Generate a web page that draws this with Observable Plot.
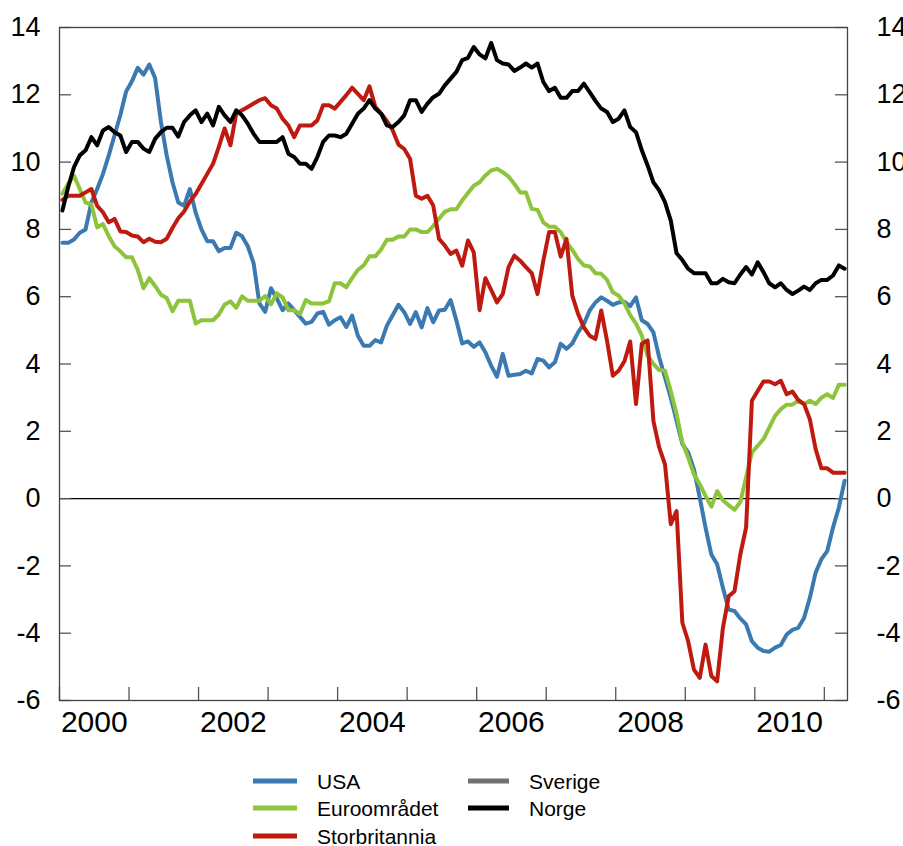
<!DOCTYPE html>
<html><head><meta charset="utf-8">
<script src="https://cdn.jsdelivr.net/npm/d3@7"></script>
<script src="https://cdn.jsdelivr.net/npm/@observablehq/plot@0.6"></script>
<style>
body{margin:0;background:#fff;font-family:"Liberation Sans",Arial,sans-serif;}
#chart{position:relative;width:903px;height:846px;overflow:hidden;}
#chart svg{display:block;}
</style></head><body><div id="chart"></div>
<script>
// Monthly observations, January 2000 to April 2011
const startYear = 2000;
const usa = [7.6,7.6,7.7,7.9,8.0,8.8,9.2,9.65,10.2,10.8,11.4,12.1,
12.4,12.8,12.6,12.9,12.5,11.2,10.2,9.4,8.8,8.7,9.2,8.5,
8.0,7.65,7.65,7.35,7.45,7.45,7.9,7.8,7.5,7.0,5.8,5.55,
6.25,5.95,5.6,5.8,5.6,5.4,5.2,5.25,5.5,5.55,5.17,5.3,
5.39,5.1,5.44,4.84,4.54,4.54,4.71,4.64,5.14,5.45,5.76,5.54,
5.19,5.54,5.09,5.66,5.24,5.59,5.61,5.9,5.29,4.61,4.67,4.51,
4.64,4.35,3.95,3.62,4.3,3.65,3.68,3.7,3.8,3.72,4.15,4.1,
3.9,4.05,4.6,4.45,4.61,4.94,5.19,5.59,5.83,5.98,5.88,5.76,
5.83,5.85,5.72,5.98,5.3,5.19,4.94,4.2,3.6,3.0,2.31,1.62,
1.37,0.87,0.03,-0.86,-1.66,-1.95,-2.65,-3.3,-3.34,-3.56,-3.74,-4.24,
-4.43,-4.53,-4.55,-4.43,-4.35,-4.04,-3.9,-3.84,-3.55,-2.95,-2.2,-1.8,
-1.56,-0.86,-0.27,0.53];
const euro = [9.06,9.36,9.6,9.2,8.8,8.75,8.06,8.16,7.8,7.5,7.35,7.17,
7.17,6.8,6.25,6.55,6.32,6.06,5.96,5.57,5.88,5.88,5.88,5.2,
5.3,5.3,5.3,5.47,5.77,5.86,5.67,6.01,5.88,5.88,5.88,6.02,
5.77,6.1,5.98,5.6,5.6,5.48,5.9,5.8,5.8,5.8,5.86,6.4,
6.4,6.28,6.55,6.8,6.93,7.2,7.2,7.4,7.69,7.69,7.79,7.79,
8.0,8.0,7.92,7.92,8.1,8.32,8.52,8.6,8.6,8.86,9.08,9.3,
9.4,9.6,9.75,9.8,9.7,9.57,9.35,9.1,9.1,8.61,8.58,8.21,
8.08,8.08,7.92,7.62,7.39,7.12,6.93,6.9,6.7,6.68,6.5,6.13,
6.03,5.8,5.45,5.2,4.84,4.25,4.0,3.82,3.8,3.2,2.51,1.67,
1.22,0.72,0.43,0.08,-0.24,0.22,-0.05,-0.2,-0.33,-0.1,0.63,1.37,
1.57,1.77,2.11,2.46,2.66,2.79,2.79,2.91,2.81,2.91,2.81,3.0,
3.1,2.99,3.38,3.38];
const uk = [8.88,9.0,9.0,9.0,9.1,9.2,8.7,8.51,8.21,8.31,7.94,7.92,
7.82,7.79,7.62,7.72,7.63,7.62,7.72,8.04,8.33,8.53,8.83,9.05,
9.35,9.65,9.95,10.45,11.0,10.5,11.44,11.54,11.64,11.74,11.84,11.9,
11.69,11.59,11.29,11.09,10.74,11.09,11.09,11.09,11.24,11.69,11.69,11.59,
11.79,11.99,12.21,12.03,11.84,12.25,11.64,11.45,11.22,10.95,10.52,10.39,
10.1,9.0,8.91,9.0,8.71,7.72,7.52,7.27,7.37,6.92,7.67,7.32,
5.6,6.55,6.2,5.83,6.08,6.88,7.22,7.07,6.88,6.7,6.08,7.07,
7.92,7.92,7.19,7.72,6.03,5.49,5.09,4.84,4.74,5.59,4.69,3.65,
3.8,4.08,4.67,2.81,4.6,4.7,2.31,1.52,1.02,-0.76,-0.37,-3.69,
-4.24,-5.08,-5.33,-4.34,-5.27,-5.43,-3.84,-2.9,-2.75,-1.66,-0.86,2.91,
3.2,3.48,3.48,3.4,3.5,3.1,3.18,2.93,2.81,2.36,1.47,0.9,
0.9,0.77,0.77,0.77];
const sverige = [];
const norge = [8.56,9.26,9.85,10.2,10.35,10.74,10.5,10.94,11.04,10.89,10.79,10.3,
10.6,10.6,10.4,10.3,10.69,10.89,11.02,11.02,10.76,11.19,11.39,11.54,
11.19,11.44,11.09,11.64,11.39,11.19,11.54,11.39,11.14,10.84,10.6,10.6,
10.6,10.6,10.74,10.25,10.15,9.95,9.95,9.8,10.15,10.6,10.79,10.79,
10.74,10.84,11.14,11.44,11.59,11.84,11.59,11.44,11.09,11.04,11.19,11.39,
11.84,11.84,11.49,11.74,11.93,12.03,12.28,12.48,12.68,13.03,13.1,13.42,
13.2,13.08,13.54,13.03,12.93,12.9,12.71,12.81,12.93,12.81,12.93,12.38,
12.11,12.21,11.91,11.91,12.11,12.11,12.33,12.08,11.82,11.59,11.49,11.19,
11.29,11.54,11.04,10.89,10.35,9.9,9.4,9.16,8.81,8.26,7.29,7.09,
6.83,6.7,6.7,6.7,6.4,6.4,6.53,6.43,6.4,6.66,6.88,6.66,
7.02,6.73,6.4,6.28,6.4,6.2,6.08,6.18,6.3,6.2,6.4,6.5,
6.5,6.63,6.93,6.83];

const names = ["USA","Euroområdet","Storbritannia","Sverige","Norge"];
const colors = ["#3a7ab0","#8dc43c","#bf1a0f","#707070","#000000"];
const valuesList = [usa, euro, uk, sverige, norge];
const yTicks = [-6,-4,-2,0,2,4,6,8,10,12,14];
const yearTicks = [2000,2001,2002,2003,2004,2005,2006,2007,2008,2009,2010,2011];
const labelYears = [2000,2002,2004,2006,2008,2010];
const xEnd = 2011 + 4/12;

const rowsFor = vals => vals.map((v,i)=>({x: startYear + (i+0.5)/12, v}));

const W=903, H=755, mL=59, mR=56, mT=27, mB=55;
const plotW = W-mL-mR, plotH = H-mT-mB;
const font = "Liberation Sans, Arial, sans-serif";

const marks = [
  Plot.ruleY([0], {stroke:"#000", strokeWidth:1.2}),
  Plot.tickY(yTicks, {y:d=>d, stroke:"#555", strokeWidth:1.3, insetRight: plotW-12}),
  Plot.tickY(yTicks, {y:d=>d, stroke:"#555", strokeWidth:1.3, insetLeft: plotW-12}),
  Plot.tickX(yearTicks, {x:d=>d, stroke:"#555", strokeWidth:1.3, insetTop: plotH-13}),
  Plot.axisY({ticks:yTicks, anchor:"left", tickSize:0, tickPadding:19, fontSize:27, label:null, tickFormat:d=>String(d)}),
  Plot.axisY({ticks:yTicks, anchor:"right", tickSize:0, tickPadding:29, fontSize:27, label:null, tickFormat:d=>String(d)}),
  Plot.axisX({ticks:labelYears.map(y=>y+0.5), tickSize:0, tickPadding:10, fontSize:30, label:null, tickFormat:d=>String(Math.floor(d))}),
];
valuesList.forEach((vals,k)=>{
  if (vals.length) marks.push(Plot.line(rowsFor(vals), {x:"x", y:"v", stroke:colors[k], strokeWidth:4, strokeLinejoin:"round"}));
});
marks.push(Plot.frame({stroke:"#444", strokeWidth:1.3}));

const chart = Plot.plot({
  width:W, height:H, marginLeft:mL, marginRight:mR, marginTop:mT, marginBottom:mB,
  x:{domain:[startYear, xEnd]},
  y:{domain:[-6,14]},
  style:{fontFamily:font, background:"#fff", color:"#000"},
  marks
});
document.getElementById("chart").appendChild(chart);

// Legend below the chart
const leg = d3.select("#chart").append("svg").attr("width",W).attr("height",846-H)
  .style("font-family", font);
const legendPos = [
  {col:0,row:0},{col:0,row:1},{col:0,row:2},{col:1,row:0},{col:1,row:1}
];
const colX = [[253,297,317],[468,509,529]];
const rowY = [26, 53, 81];
names.forEach((n,k)=>{
  const p = legendPos[k];
  const [x1,x2,tx] = colX[p.col];
  const y = rowY[p.row];
  leg.append("line").attr("x1",x1).attr("x2",x2).attr("y1",y).attr("y2",y)
    .attr("stroke",colors[k]).attr("stroke-width",5);
  leg.append("text").attr("x",tx).attr("y",y).attr("dy","0.36em")
    .attr("font-size",21).attr("fill","#000").text(n);
});
</script></body></html>
